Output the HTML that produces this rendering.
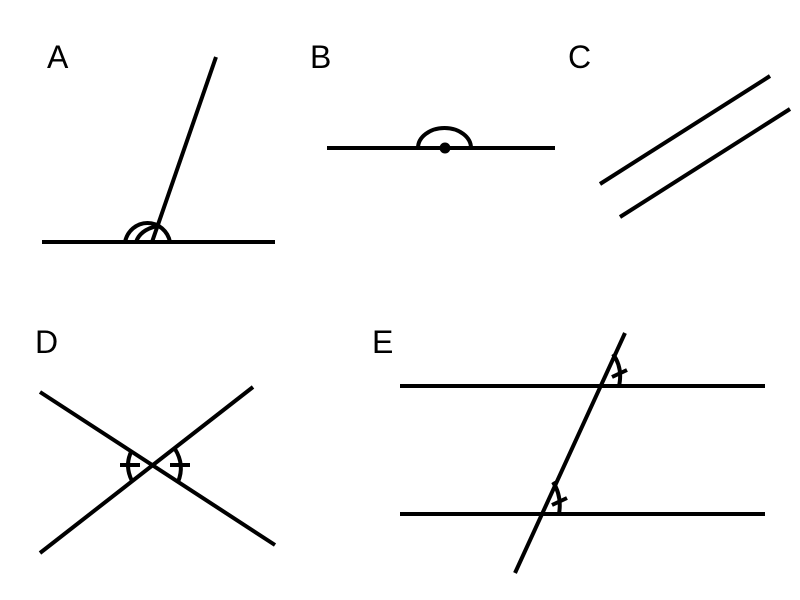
<!DOCTYPE html>
<html><head><style>html,body{margin:0;padding:0;background:#fff}svg{display:block}</style></head>
<body>
<svg width="800" height="600" viewBox="0 0 800 600" xmlns="http://www.w3.org/2000/svg">
<g font-family="Liberation Sans, sans-serif" font-size="32" fill="#000">
<text x="47" y="68">A</text>
<text x="310" y="68">B</text>
<text x="568" y="68">C</text>
<text x="35" y="353">D</text>
<text x="372" y="353">E</text>
</g>
<g stroke="#000" stroke-width="4" fill="none" stroke-linecap="butt">
<!-- A -->
<line x1="42" y1="242" x2="275" y2="242"/>
<line x1="152" y1="242" x2="216" y2="57"/>
<path d="M125,242 A23,24 0 0 1 170,242"/>
<path d="M136,242 Q140,230 157,226"/>
<!-- B -->
<line x1="327" y1="148" x2="555" y2="148"/>
<path d="M418,148 A26.5,20 0 0 1 471,148"/>
<!-- C -->
<line x1="600" y1="184" x2="770" y2="76"/>
<line x1="620" y1="217" x2="790" y2="109"/>
<!-- D -->
<line x1="40" y1="392" x2="275" y2="545"/>
<line x1="40" y1="553" x2="253" y2="387"/>
<path d="M132,450 Q124,465 132,481"/>
<line x1="120" y1="465" x2="140" y2="465"/>
<path d="M175,449 Q185,465 178,482"/>
<line x1="170" y1="465" x2="190" y2="465"/>
<!-- E -->
<line x1="400" y1="386" x2="765" y2="386"/>
<line x1="400" y1="514" x2="765" y2="514"/>
<line x1="625" y1="333" x2="515" y2="573"/>
<path d="M613,354 Q623,368 619,386"/>
<line x1="612" y1="377" x2="627" y2="370"/>
<path d="M553,482 Q562,496 559,514"/>
<line x1="552" y1="505" x2="567" y2="498"/>
</g>
<circle cx="445" cy="148" r="5.5" fill="#000"/>
</svg>
</body></html>
